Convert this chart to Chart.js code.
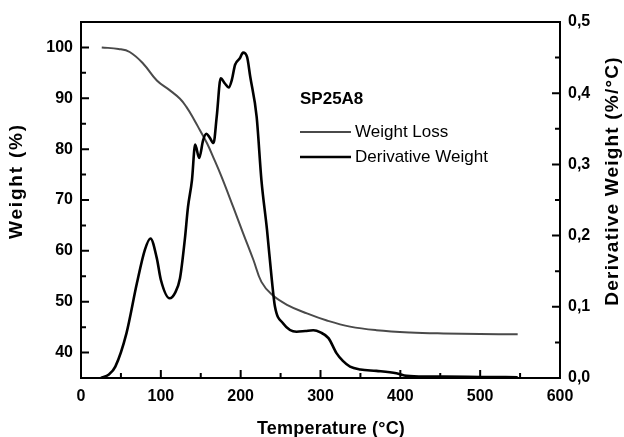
<!DOCTYPE html>
<html>
<head>
<meta charset="utf-8">
<script src="https://cdn.jsdelivr.net/npm/chart.js@4.4.1/dist/chart.umd.min.js"></script>
<style>
  html, body { margin: 0; padding: 0; background: #fff; }
  #wrap { width: 624px; height: 437px; }
</style>
</head>
<body>
<div id="wrap"><canvas id="tga"></canvas></div>
<script>
// temperature (°C) / weight (%)
const weightTemp = [26, 47, 61, 78, 95, 111, 124, 132, 141, 149, 158, 166, 176, 191, 203, 216, 226, 239, 258, 283, 308, 337, 370, 412, 454, 500, 547];
const weightLoss = [100, 99.7, 99.1, 96.8, 93.5, 91.6, 89.9, 88.3, 86, 83.7, 81.1, 78.3, 74.6, 68.5, 63.5, 58.2, 53.9, 51.4, 49.4, 47.7, 46.3, 45.1, 44.4, 43.95, 43.75, 43.65, 43.6];

// temperature (°C) / derivative weight (%/°C)
const derivTemp = [25, 35, 43, 57, 70, 80, 87, 95, 100, 111, 118, 124, 130, 134, 139, 143, 148, 153, 157, 161, 166, 170, 175, 180, 185, 189, 193, 199, 203, 208, 212, 220, 226, 233, 239, 243, 253, 270, 281, 291, 300, 310, 320, 328, 337, 350, 370, 395, 408, 430, 454, 500, 547];
const derivWeight = [0, 0.005, 0.016, 0.063, 0.133, 0.18, 0.196, 0.168, 0.138, 0.112, 0.12, 0.14, 0.194, 0.24, 0.278, 0.328, 0.309, 0.334, 0.343, 0.338, 0.33, 0.367, 0.421, 0.414, 0.408, 0.419, 0.44, 0.449, 0.457, 0.451, 0.423, 0.367, 0.278, 0.208, 0.138, 0.1, 0.077, 0.065, 0.066, 0.067, 0.064, 0.056, 0.035, 0.024, 0.016, 0.012, 0.010, 0.0066, 0.003, 0.002, 0.002, 0.0015, 0.001];

const xTicks = [0, 100, 200, 300, 400, 500, 600];
const leftTicks = [40, 50, 60, 70, 80, 90, 100];
const rightTicks = [0, 0.1, 0.2, 0.3, 0.4, 0.5];

const FONT = "'Liberation Sans', Arial, sans-serif";

function pairs(xs, ys) {
  return xs.map((x, i) => ({ x: x, y: ys[i] }));
}

function mids(arr) {
  const out = [];
  for (let i = 0; i < arr.length - 1; i++) out.push((arr[i] + arr[i + 1]) / 2);
  return out;
}

function label(ctx, text, x, y, rot, spacing) {
  ctx.save();
  ctx.translate(x, y);
  ctx.rotate(rot);
  ctx.letterSpacing = spacing + 'px';
  ctx.fillText(text, 0, 0);
  ctx.restore();
}

// frame, inward ticks, axis titles and the in-plot legend
const framePlugin = {
  id: 'frame',
  afterDraw(chart) {
    const ctx = chart.ctx;
    const a = chart.chartArea;
    const sx = chart.scales.x, sy = chart.scales.y, sy1 = chart.scales.y1;
    ctx.save();
    ctx.strokeStyle = '#000';
    ctx.lineWidth = 2;
    ctx.strokeRect(a.left, a.top, a.right - a.left, a.bottom - a.top);

    ctx.beginPath();
    xTicks.forEach(v => { const p = sx.getPixelForValue(v); ctx.moveTo(p, a.bottom); ctx.lineTo(p, a.bottom - 8); });
    mids(xTicks).forEach(v => { const p = sx.getPixelForValue(v); ctx.moveTo(p, a.bottom); ctx.lineTo(p, a.bottom - 5); });
    leftTicks.forEach(v => { const p = sy.getPixelForValue(v); ctx.moveTo(a.left, p); ctx.lineTo(a.left + 8, p); });
    mids(leftTicks).forEach(v => { const p = sy.getPixelForValue(v); ctx.moveTo(a.left, p); ctx.lineTo(a.left + 5, p); });
    rightTicks.forEach(v => { const p = sy1.getPixelForValue(v); ctx.moveTo(a.right, p); ctx.lineTo(a.right - 8, p); });
    mids(rightTicks).forEach(v => { const p = sy1.getPixelForValue(v); ctx.moveTo(a.right, p); ctx.lineTo(a.right - 5, p); });
    ctx.stroke();

    // axis titles
    ctx.fillStyle = '#000';
    ctx.textBaseline = 'middle';
    ctx.textAlign = 'center';
    ctx.font = 'bold 18px ' + FONT;
    label(ctx, 'Temperature (°C)', 331, 429, 0, 0.2);
    ctx.font = 'bold 19px ' + FONT;
    label(ctx, 'Weight (%)', 17, 181, -Math.PI / 2, 1.8);
    label(ctx, 'Derivative Weight (%/°C)', 613, 181, -Math.PI / 2, 1.2);

    // legend
    ctx.textAlign = 'left';
    ctx.font = 'bold 17px ' + FONT;
    ctx.fillText('SP25A8', 300, 99);
    ctx.lineWidth = 2;
    ctx.strokeStyle = '#4a4a4a';
    ctx.beginPath(); ctx.moveTo(300, 132); ctx.lineTo(351, 132); ctx.stroke();
    ctx.lineWidth = 2.6;
    ctx.strokeStyle = '#000';
    ctx.beginPath(); ctx.moveTo(300, 157); ctx.lineTo(351, 157); ctx.stroke();
    ctx.font = '17px ' + FONT;
    ctx.fillText('Weight Loss', 355, 132);
    ctx.fillText('Derivative Weight', 355, 157);
    ctx.restore();
  }
};

const tickFont = { family: FONT, size: 16, weight: 'bold' };

const config = {
  type: 'line',
  data: {
    datasets: [
      {
        label: 'Derivative Weight',
        data: pairs(derivTemp, derivWeight),
        yAxisID: 'y1',
        borderColor: '#000',
        borderWidth: 2.6,
        pointRadius: 0,
        cubicInterpolationMode: 'monotone',
        fill: false
      },
      {
        label: 'Weight Loss',
        data: pairs(weightTemp, weightLoss),
        yAxisID: 'y',
        borderColor: '#4a4a4a',
        borderWidth: 2,
        pointRadius: 0,
        tension: 0.4,
        fill: false
      }
    ]
  },
  options: {
    responsive: true,
    maintainAspectRatio: false,
    animation: false,
    layout: { padding: { top: 22, left: 0, right: 0, bottom: 0 } },
    plugins: { legend: { display: false }, tooltip: { enabled: false } },
    scales: {
      x: {
        type: 'linear',
        min: 0, max: 600,
        afterBuildTicks: s => { s.ticks = xTicks.map(v => ({ value: v })); },
        afterFit: s => { s.height = 59; },
        grid: { display: false, drawTicks: false },
        border: { display: false },
        ticks: { color: '#000', font: tickFont, padding: 9, maxRotation: 0 }
      },
      y: {
        position: 'left',
        min: 35, max: 105,
        afterBuildTicks: s => { s.ticks = leftTicks.map(v => ({ value: v })); },
        afterFit: s => { s.width = 81; },
        grid: { display: false, drawTicks: false },
        border: { display: false },
        ticks: { color: '#000', font: tickFont, padding: 8 }
      },
      y1: {
        position: 'right',
        min: 0, max: 0.5,
        afterBuildTicks: s => { s.ticks = rightTicks.map(v => ({ value: v })); },
        afterFit: s => { s.width = 64; },
        grid: { display: false, drawTicks: false },
        border: { display: false },
        ticks: { color: '#000', font: tickFont, padding: 8, callback: v => v.toFixed(1).replace('.', ',') }
      }
    }
  },
  plugins: [framePlugin]
};

var chart = new Chart(document.getElementById('tga'), config);
</script>
</body>
</html>
